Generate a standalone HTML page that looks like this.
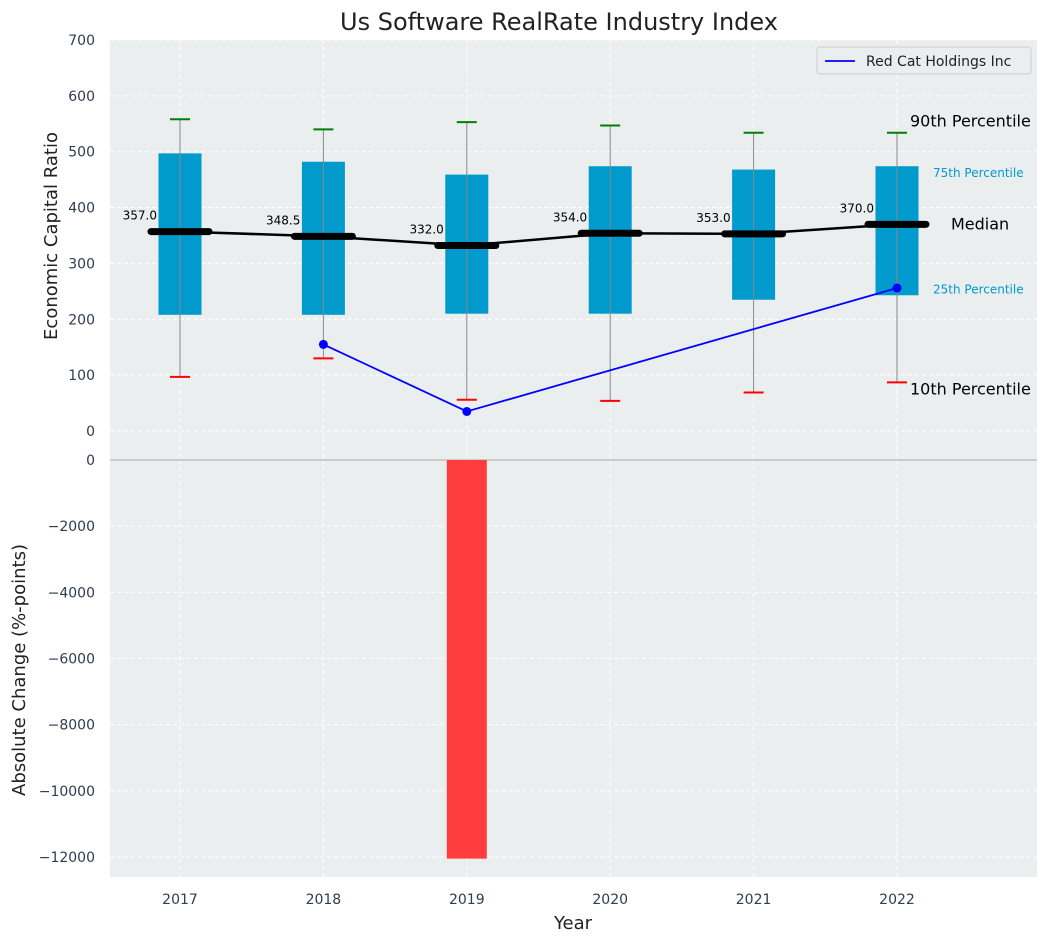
<!DOCTYPE html>
<html><head><meta charset="utf-8"><style>
body{margin:0;background:#fff;font-family:"Liberation Sans","DejaVu Sans",sans-serif}
svg text{font-family:"DejaVu Sans","Liberation Sans",sans-serif}
</style></head><body>
<svg id="c" width="1048" height="942" xmlns="http://www.w3.org/2000/svg"></svg>
<script>
const years=[2017,2018,2019,2020,2021,2022];
const q1=[208,208,210,210,235,243];
const q3=[497,482,459,474,468,474];
const med=[357,348.5,332,354,353,370];
const p10=[97,130,56,54,69,87];
const p90=[558,540,553,547,534,534];
const rcYears=[2018,2019,2022];
const rcVals=[155,35,256];
const chg=[0,0,-12050,0,0,0];
const topTicks=[0,100,200,300,400,500,600,700];
const botTicks=[0,-2000,-4000,-6000,-8000,-10000,-12000];
const svg=document.getElementById('c');const NS='http://www.w3.org/2000/svg';
function el(t,a,txt){const e=document.createElementNS(NS,t);for(const k in a)e.setAttribute(k,a[k]);if(txt!==undefined)e.textContent=txt;svg.appendChild(e);return e;}
const X=y=>180+(y-2017)*143.4;
const YT=v=>431-v*0.5586;
const YB=v=>460-v*0.03308;
let e;
e=el('rect',{x:110,y:40,width:927,height:420,fill:'#eaeeef'});
e=el('rect',{x:110,y:460,width:927,height:417,fill:'#eaeeef'});
topTicks.forEach(t=>{el('line',{x1:110,x2:1037,y1:YT(t),y2:YT(t),stroke:'#fff','stroke-dasharray':'4,3'});
 e=el('text',{x:95,y:YT(t)+5,'text-anchor':'end','font-size':14,fill:'#2e3d50'},t);});
botTicks.forEach(t=>{el('line',{x1:110,x2:1037,y1:YB(t),y2:YB(t),stroke:'#fff','stroke-dasharray':'4,3'});
 e=el('text',{x:95,y:YB(t)+5,'text-anchor':'end','font-size':14,fill:'#2e3d50'},t===0?'0':'\u2212'+Math.abs(t));});
years.forEach(y=>{el('line',{x1:X(y),x2:X(y),y1:40,y2:877,stroke:'#fff','stroke-dasharray':'4,3'});
 e=el('text',{x:X(y),y:904,'text-anchor':'middle','font-size':14,fill:'#2e3d50'},y);});
e=el('line',{x1:110,x2:1037,y1:460,y2:460,stroke:'#aaa','stroke-width':1});
chg.forEach((v,i)=>{if(v===0)return;const x=X(years[i]);
 e=el('rect',{x:x-20,y:YB(0),width:40,height:YB(v)-YB(0),fill:'#ff3d3d'});});
years.forEach((y,i)=>{const x=X(y);
 e=el('rect',{x:x-21.5,y:YT(q3[i]),width:43,height:YT(q1[i])-YT(q3[i]),fill:'#009acd'});
 el('line',{x1:x,x2:x,y1:YT(p90[i]),y2:YT(p10[i]),stroke:'#888','stroke-width':1});
 el('line',{x1:x-10,x2:x+10,y1:YT(p90[i]),y2:YT(p90[i]),stroke:'green','stroke-width':2});
 el('line',{x1:x-10,x2:x+10,y1:YT(p10[i]),y2:YT(p10[i]),stroke:'red','stroke-width':2});
 e=el('text',{x:x-23,y:YT(med[i])-12,'text-anchor':'end','font-size':12,fill:'#000'},med[i].toFixed(1));
});
let d=years.map((y,i)=>(i?'L':'M')+X(y)+','+YT(med[i])).join(' ');
el('path',{d:d,fill:'none',stroke:'#000','stroke-width':2.5});
years.forEach((y,i)=>{e=el('line',{x1:X(y)-29,x2:X(y)+29,y1:YT(med[i]),y2:YT(med[i]),stroke:'#000','stroke-width':7,'stroke-linecap':'round'});});
d=rcYears.map((y,i)=>(i?'L':'M')+X(y)+','+YT(rcVals[i])).join(' ');
e=el('path',{d:d,fill:'none',stroke:'blue','stroke-width':1.8});
rcYears.forEach((y,i)=>{el('circle',{cx:X(y),cy:YT(rcVals[i]),r:4.5,fill:'blue'});});
const L=X(2022);
el('text',{x:L+13,y:YT(534)-6,'font-size':16,fill:'#000'},'90th Percentile');
el('text',{x:L+36,y:YT(474)+11,'font-size':12,fill:'#009acd'},'75th Percentile');
el('text',{x:L+54,y:YT(370)+5,'font-size':16,fill:'#000'},'Median');
el('text',{x:L+36,y:YT(243)-2,'font-size':12,fill:'#009acd'},'25th Percentile');
el('text',{x:L+13,y:YT(87)+12,'font-size':16,fill:'#000'},'10th Percentile');
e=el('rect',{x:817,y:47,width:214,height:27,fill:'#eaeeef',stroke:'#ccc',rx:3});
el('line',{x1:825,x2:855,y1:61,y2:61,stroke:'blue','stroke-width':1.8});
el('text',{x:866,y:66,'font-size':14,fill:'#222'},'Red Cat Holdings Inc');
e=el('text',{x:559,y:30,'text-anchor':'middle','font-size':24,fill:'#222'},'Us Software RealRate Industry Index');
el('text',{x:573,y:929,'text-anchor':'middle','font-size':18,fill:'#222'},'Year');
el('text',{transform:'translate(57,236) rotate(-90)','text-anchor':'middle','font-size':18,fill:'#222'},'Economic Capital Ratio');
el('text',{transform:'translate(25,670) rotate(-90)','text-anchor':'middle','font-size':18,fill:'#222'},'Absolute Change (%-points)');
</script></body></html>
